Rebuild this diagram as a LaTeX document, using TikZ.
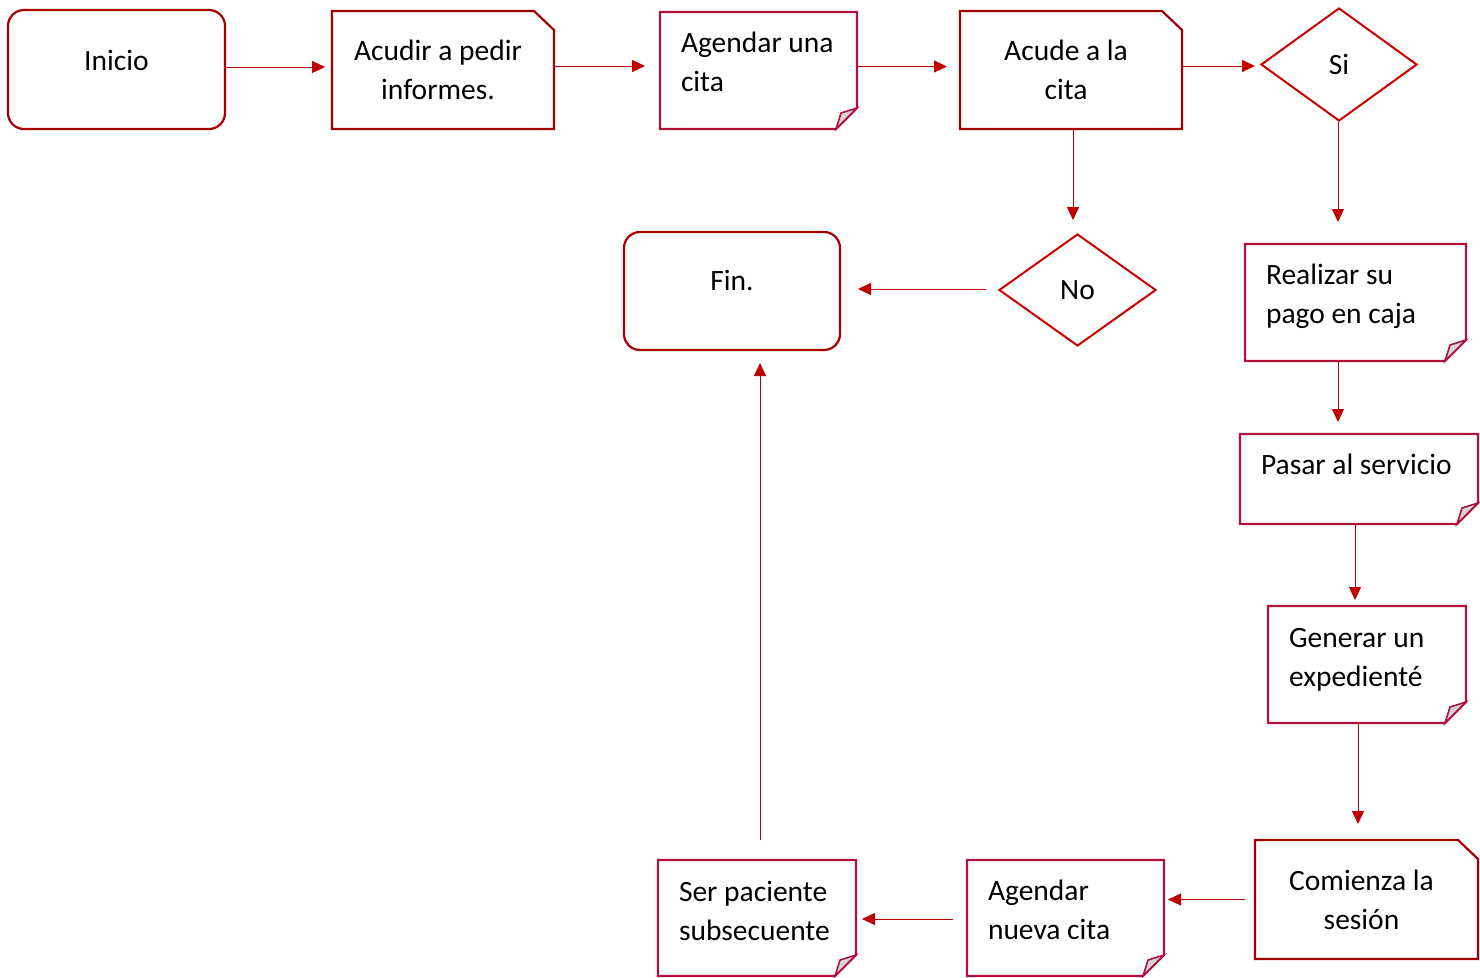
\documentclass[tikz,border=0pt]{standalone}
\usepackage{fontspec}
\setmainfont{Carlito}
\usetikzlibrary{arrows.meta,shapes.geometric}

\definecolor{snipred}{HTML}{A00000}
\definecolor{foldred}{HTML}{B0123A}
\definecolor{roundred}{HTML}{A80000}
\definecolor{diared}{HTML}{CC0000}
\definecolor{arrred}{HTML}{C00000}
\definecolor{flapgray}{HTML}{D4D4D4}

% invisible padding after a centred line, nudging it slightly left
\newcommand\tailpad{\rule{10pt}{0pt}}

\tikzset{
  txt/.style={font=\fontsize{29.5pt}{39pt}\selectfont, text=black},
  box/.style={txt, anchor=north west, inner ysep=0pt, outer sep=0pt},
  startend/.style={box, draw=roundred, line width=2.2pt, rounded corners=16pt, inner xsep=0pt},
  snipbox/.style={box, inner xsep=10pt, align=flush center},
  foldbox/.style={box, inner xsep=21pt, align=flush left},
  decision/.style={txt, diamond, draw=diared, line width=2pt, inner sep=0pt},
  snipline/.style={draw=snipred, line width=2.2pt, line join=miter},
  foldline/.style={draw=foldred, line width=2.2pt, line join=miter},
  foldflap/.style={draw=foldred, fill=flapgray, line width=1.6pt, line join=miter},
  arr/.style={draw=arrred, line width=1pt, -{Triangle[length=13pt,width=12pt]}}
}

\begin{document}
\begin{tikzpicture}[x=1pt,y=-1pt]
\useasboundingbox (0,0) rectangle (1480,977);

% start / end
\node[startend, minimum width=217pt, text height=60pt, text depth=59pt] (inicio) at (8,10) {Inicio};
\node[startend, minimum width=216pt, text height=58pt, text depth=60pt] (fin) at (624,232) {Fin.};

% boxes with a cut corner
\node[snipbox, text width=202pt, text height=49pt, text depth=69pt] (acudir) at (332,11) {Acudir~a~pedir\tailpad\\informes.\tailpad};
\node[snipbox, text width=202pt, text height=49pt, text depth=69pt] (acude) at (960,11) {Acude~a~la\tailpad\\cita\tailpad};
\node[snipbox, text width=203pt, text height=50pt, text depth=69pt] (comienza) at (1255,840) {Comienza~la\tailpad\\sesión\tailpad};

% boxes with a folded corner
\node[foldbox, text width=155pt, text height=40pt, text depth=77pt] (agendar) at (660,12) {Agendar~una\\cita};
\node[foldbox, text width=179pt, text height=40pt, text depth=77pt] (pago) at (1245,244) {Realizar~su\\pago~en~caja};
\node[foldbox, text width=196pt, text height=40pt, text depth=50pt] (servicio) at (1240,434) {Pasar~al~servicio};
\node[foldbox, text width=156pt, text height=41pt, text depth=76pt] (expediente) at (1268,606) {Generar~un\\expedienté};
\node[foldbox, text width=155pt, text height=40pt, text depth=76pt] (nueva) at (967,860) {Agendar\\nueva~cita};
\node[foldbox, text width=156pt, text height=41pt, text depth=75pt] (subsecuente) at (658,860) {Ser~paciente\\subsecuente};

% decisions
\node[decision, minimum width=156pt, minimum height=113pt] (si) at (1339,64.5) {Si};
\node[decision, minimum width=157pt, minimum height=112pt] (no) at (1077.5,290) {No};

% outlines of the cut-corner boxes
\foreach \n in {acudir,acude,comienza}{
  \draw[snipline] (\n.north west) -- ([xshift=-20pt]\n.north east)
    -- ([yshift=-19pt]\n.north east) -- (\n.south east) -- (\n.south west) -- cycle;
}

% outlines of the folded-corner boxes
\foreach \n in {agendar,pago,servicio,expediente,nueva,subsecuente}{
  \draw[foldline] (\n.north west) -- (\n.north east) -- ([yshift=21pt]\n.south east)
    -- ([xshift=-21pt]\n.south east) -- (\n.south west) -- cycle;
  \draw[foldflap] ([xshift=-21pt]\n.south east) -- ([xshift=-16pt,yshift=16pt]\n.south east)
    -- ([yshift=21pt]\n.south east) -- cycle;
}

% connectors
\draw[arr, shorten >=7pt] ([yshift=2.5pt]inicio.east) -- ([yshift=2.5pt]inicio.east -| acudir.west);
\draw[arr, shorten >=15pt] ([yshift=4pt]acudir.east) -- ([yshift=4pt]acudir.east -| agendar.west);
\draw[arr, shorten >=13pt] ([yshift=4pt]agendar.east) -- ([yshift=4pt]agendar.east -| acude.west);
\draw[arr, shorten >=5pt] ([yshift=4pt]acude.east) -- ([yshift=4pt]acude.east -| si.west);
\draw[arr, shorten >=13pt] ([xshift=2pt]acude.south) -- ([xshift=2pt]acude.south |- no.north);
\draw[arr, shorten <=12pt, shorten >=18pt] ([yshift=1pt]no.west) -- ([yshift=1pt]no.west -| fin.east);
\draw[arr, shorten >=22pt] ([xshift=-1pt]si.south) -- ([xshift=-1pt]si.south |- pago.north);
\draw[arr, shorten >=12pt] ([xshift=-17.5pt]pago.south) -- ([xshift=-17.5pt]pago.south |- servicio.north);
\draw[arr, shorten >=6pt] ([xshift=-4pt]servicio.south) -- ([xshift=-4pt]servicio.south |- expediente.north);
\draw[arr, shorten >=16pt] ([xshift=-9pt]expediente.south) -- ([xshift=-9pt]expediente.south |- comienza.north);
\draw[arr, shorten <=10pt, shorten >=4pt] (comienza.west) -- (comienza.west -| nueva.east);
\draw[arr, shorten <=14pt, shorten >=6pt] ([yshift=-1pt]nueva.west) -- ([yshift=-1pt]nueva.west -| subsecuente.east);
\draw[arr, shorten <=20pt, shorten >=13pt] ([xshift=3pt]subsecuente.north) -- ([xshift=3pt]subsecuente.north |- fin.south);
\end{tikzpicture}
\end{document}
